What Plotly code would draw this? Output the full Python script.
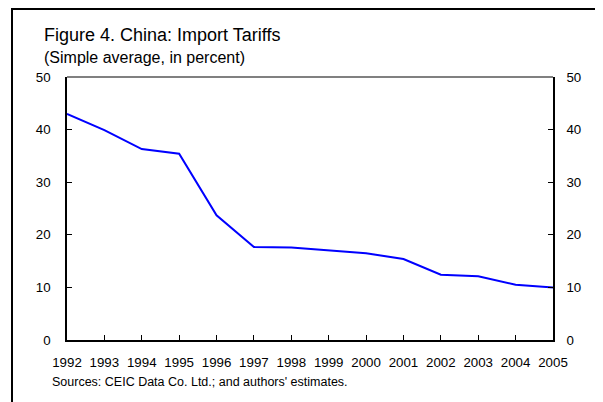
import plotly.graph_objects as go

years = [1992, 1993, 1994, 1995, 1996, 1997, 1998, 1999, 2000, 2001, 2002, 2003, 2004, 2005]
tariffs = [43.0, 39.9, 36.3, 35.4, 23.7, 17.7, 17.6, 17.0, 16.5, 15.4, 12.4, 12.1, 10.5, 10.0]
y_ticks = [0, 10, 20, 30, 40, 50]

title_text = "Figure 4. China: Import Tariffs"
subtitle_text = "(Simple average, in percent)"
source_text = "Sources: CEIC Data Co. Ltd.; and authors' estimates."

FONT = "Arial, Liberation Sans, sans-serif"
OFF = 8  # page body margin
W, H = 603 - OFF, 402 - OFF
L, R, T, B = 59, 50, 69, 62
pw, ph = W - L - R, H - T - B


def px(x):  # viewport pixel -> paper x
    return (x - OFF - L) / pw


def py(y):  # viewport pixel -> paper y
    return (H - B - (y - OFF)) / ph


fig = go.Figure()
fig.add_trace(go.Scatter(x=years, y=tariffs, mode="lines",
                         line=dict(color="#0000FF", width=2), showlegend=False,
                         hoverinfo="x+y"))
fig.add_trace(go.Scatter(x=years, y=tariffs, mode="lines", yaxis="y2",
                         line=dict(color="rgba(0,0,0,0)", width=0), showlegend=False,
                         hoverinfo="skip"))

axis_font = dict(family=FONT, size=13.3, color="black")

fig.update_layout(
    width=W, height=H,
    margin=dict(l=L, r=R, t=T, b=B, pad=0),
    paper_bgcolor="white", plot_bgcolor="white",
    xaxis=dict(range=[1992, 2005], tickvals=years, ticktext=[str(y) for y in years],
               ticks="inside", ticklen=5, tickcolor="black", tickwidth=1,
               showline=True, linecolor="black", linewidth=1.5,
               showgrid=False, zeroline=False, tickfont=axis_font,
               ticklabelstandoff=9),
    yaxis=dict(range=[0, 50], tickvals=y_ticks, ticks="inside", ticklen=5,
               tickcolor="black", showline=True, linecolor="black", linewidth=1.5,
               showgrid=False, zeroline=False, tickfont=axis_font,
               ticklabelstandoff=12),
    yaxis2=dict(range=[0, 50], tickvals=y_ticks, ticks="inside", ticklen=5,
                tickcolor="black", showline=True, linecolor="black", linewidth=1.5,
                showgrid=False, zeroline=False, tickfont=axis_font,
                overlaying="y", side="right", ticklabelstandoff=9),
    shapes=[
        dict(type="line", xref="paper", yref="paper", x0=0, x1=1, y0=1, y1=1,
             line=dict(color="#808080", width=2)),
        dict(type="rect", xref="paper", yref="paper", x0=px(12), y0=py(430),
             x1=px(640), y1=py(9), line=dict(color="black", width=2)),
    ],
    annotations=[
        dict(text=title_text, xref="paper", yref="paper", x=px(42), y=py(35),
             xanchor="left", yanchor="middle", showarrow=False,
             font=dict(family=FONT, size=18, color="black")),
        dict(text=subtitle_text, xref="paper", yref="paper", x=px(42), y=py(57),
             xanchor="left", yanchor="middle", showarrow=False,
             font=dict(family=FONT, size=16, color="black")),
        dict(text=source_text, xref="paper", yref="paper", x=px(50), y=py(382),
             xanchor="left", yanchor="middle", showarrow=False,
             font=dict(family=FONT, size=12.5, color="black")),
    ],
)

fig.write_html("out.html")
